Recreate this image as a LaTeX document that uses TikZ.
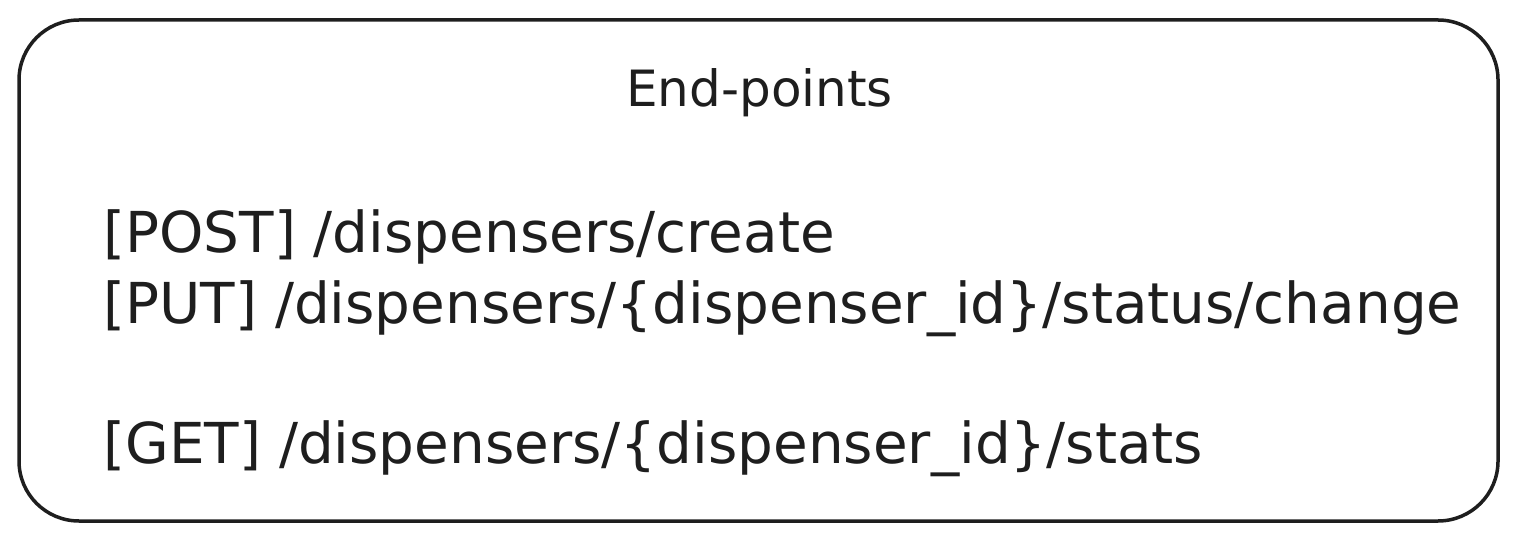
\documentclass[tikz,border=0pt]{standalone}
\usepackage{fontspec}
\setmainfont{DejaVu Sans}
\usetikzlibrary{positioning}
\definecolor{ink}{HTML}{1E1E1E}
\begin{document}
\begin{tikzpicture}[x=0.5pt,y=0.5pt]
\tikzstyle{frame}=[rectangle,draw=ink,line width=1.75pt,rounded corners=30pt,minimum width=739.5pt,minimum height=250.5pt,inner sep=0pt]
\tikzstyle{heading}=[text=ink,font=\fontsize{25}{25}\selectfont,inner sep=0pt,anchor=base]
\tikzstyle{endpt}=[text=ink,font=\fontsize{28.2}{28.2}\selectfont,inner sep=0pt,anchor=base west]
\useasboundingbox (0,0) rectangle (1518,541);
\node (box) [frame] at (758.5,270.5) {};
\node (title) [heading] at (759.5,434) {End-points};
\node (post) [endpt] at (103,288) {[POST] /dispensers/create};
\node (put) [endpt,below=35pt of post.base west,anchor=base west] {[PUT] /dispensers/\{dispenser\_id\}/status/change};
\node (get) [endpt,below=70pt of put.base west,anchor=base west] {[GET] /dispensers/\{dispenser\_id\}/stats};
\end{tikzpicture}
\end{document}
